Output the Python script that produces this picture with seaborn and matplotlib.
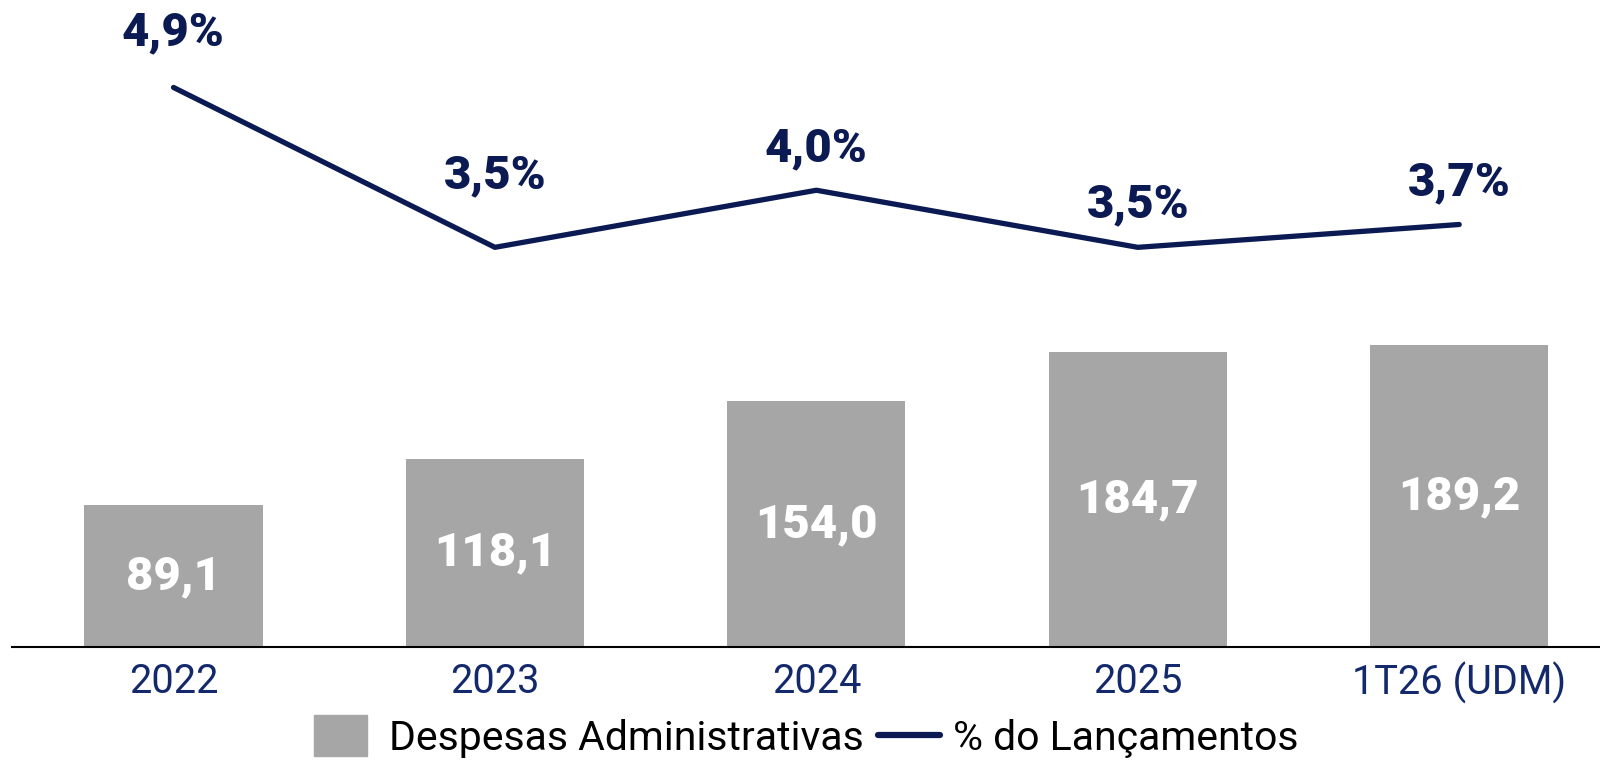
import matplotlib
matplotlib.use("Agg")
import matplotlib.pyplot as plt
import seaborn as sns
import pandas as pd
from matplotlib.patches import Patch, Rectangle
from matplotlib.lines import Line2D
from matplotlib.legend_handler import HandlerPatch

categories = ["2022", "2023", "2024", "2025", "1T26 (UDM)"]
despesas = [89.1, 118.1, 154.0, 184.7, 189.2]
pct_lanc = [4.9, 3.5, 4.0, 3.5, 3.7]
bar_labels = ["89,1", "118,1", "154,0", "184,7", "189,2"]
pct_labels = ["4,9%", "3,5%", "4,0%", "3,5%", "3,7%"]

sns.set_theme(style="white")
plt.rcParams['font.family'] = ['Roboto', 'DejaVu Sans']

NAVY = "#0B1A52"
TICK = "#13296B"
GREY = "#A6A6A6"

fig = plt.figure(figsize=(16, 7.61), dpi=100)
ax = fig.add_axes([0.0075, 0.1498, 0.9925, 0.8502])

df = pd.DataFrame({"cat": categories, "val": despesas})
sns.barplot(data=df, x="cat", y="val", order=categories, color=GREY,
            width=0.554, saturation=1, ax=ax, edgecolor="none")
ax.bar_label(ax.containers[0], labels=bar_labels, label_type="center",
             color="white", fontsize=34, fontweight=900)
ax.set_xlim(-0.5025, 4.438)
ax.set_ylim(0, 405.6)
ax.set_xlabel("")
ax.set_ylabel("")
ax.set_yticks([])
ax.tick_params(axis="x", length=0, pad=11, labelsize=28.5, labelcolor=TICK)
for s in ["top", "right", "left"]:
    ax.spines[s].set_visible(False)
ax.spines["bottom"].set_color("black")
ax.spines["bottom"].set_linewidth(1.5)

ax2 = ax.twinx()
sns.lineplot(x=list(range(len(categories))), y=pct_lanc, color=NAVY,
             linewidth=3.8, ax=ax2)
ax2.set_ylim(0, 5.666)
ax2.set_yticks([])
ax2.set_ylabel("")
for s in ["top", "right", "left", "bottom"]:
    ax2.spines[s].set_visible(False)

label_offsets = [40, 52, 30, 31, 30]
for i, (v, t) in enumerate(zip(pct_lanc, pct_labels)):
    ax2.annotate(t, (i, v), xytext=(0, label_offsets[i]), textcoords="offset points",
                 ha="center", va="center", color=NAVY, fontsize=34,
                 fontweight=900)


def square(legend, orig_handle, xdescent, ydescent, width, height, fontsize):
    w = width * 0.86
    h = height * 1.45
    return Rectangle((-xdescent, -ydescent - (h - height) / 2), w, h)


handles = [Patch(color=GREY, label="Despesas Administrativas"),
           Line2D([0], [0], color=NAVY, linewidth=4.5, label="% do Lançamentos")]
fig.legend(handles=handles, loc="center", bbox_to_anchor=(0.504, 0.030),
           ncol=2, frameon=False, fontsize=29.5, handlelength=1.5,
           handletextpad=0.33, columnspacing=0.35, labelcolor="black",
           handler_map={Patch: HandlerPatch(patch_func=square)})

fig.savefig("out.png", dpi=100)
